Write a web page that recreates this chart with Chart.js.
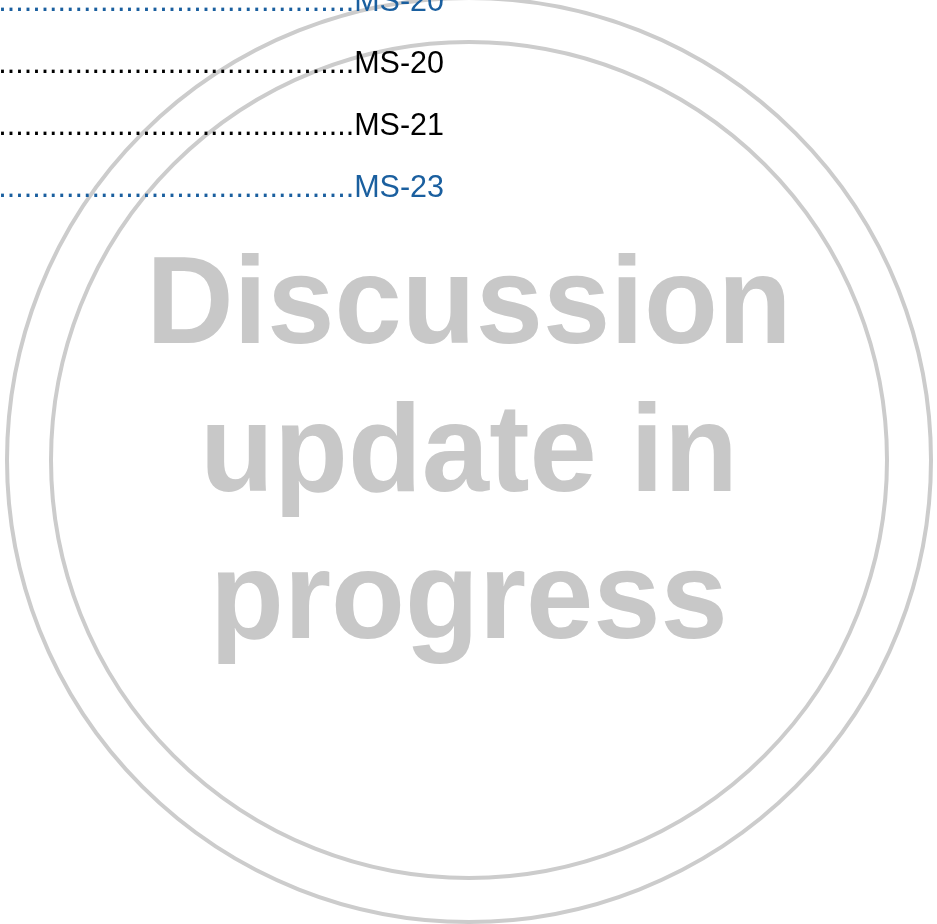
<!DOCTYPE html>
<html><head><meta charset="utf-8">
<script src="https://cdn.jsdelivr.net/npm/chart.js@4.4.1/dist/chart.umd.min.js"></script>
<style>html,body{margin:0;padding:0;background:#fff;overflow:hidden}canvas{display:block}</style>
</head><body>
<canvas id="c" width="937" height="924"></canvas>
<script>
// ---------- data ----------
const tocLabels = ['MS-20', 'MS-20', 'MS-21', 'MS-23'];
const tocLinked = [true, false, false, true];
const watermarkLines = ['Discussion', 'update in', 'progress'];
const watermarkRings = ['outer ring', 'inner ring'];

// ---------- layout / style (kept out of the data) ----------
const PAGE = { w: 937, h: 924 };
const STYLE = {
  toc: {
    font: '30.5px "Liberation Sans", Arial, sans-serif',
    right: 444, firstBaseline: 11, rowStep: 62, leaderDots: 60,
    linkColor: '#1a5f9f', textColor: '#000000'
  },
  mark: {
    cx: 469, cy: 460, radii: [462, 418],
    ringColor: '#cccccc', ringWidth: 4,
    font: 'bold 125px "Liberation Sans", Arial, sans-serif', squeeze: 0.968,
    color: '#c8c8c8', firstBaseline: 343, lineStep: 147.5
  }
};

const pageText = {
  id: 'pageText',
  beforeDraw(chart) {
    const c = chart.ctx;
    c.save(); c.fillStyle = '#ffffff'; c.fillRect(0, 0, chart.width, chart.height); c.restore();
  },
  afterDatasetsDraw(chart) {
    const c = chart.ctx, sx = chart.scales.x, sy = chart.scales.y;
    const m = STYLE.mark, t = STYLE.toc;
    // watermark words
    c.save();
    c.font = m.font; c.fillStyle = m.color; c.textAlign = 'center'; c.textBaseline = 'alphabetic';
    const px = sx.getPixelForValue(m.cx);
    watermarkLines.forEach((line, i) => {
      const py = sy.getPixelForValue(m.firstBaseline + i * m.lineStep);
      c.save();
      c.translate(px, py);
      c.scale(m.squeeze, 1);
      c.fillText(line, 0, 0);
      c.restore();
    });
    c.restore();
    // table-of-contents rows with dot leaders
    c.save();
    c.font = t.font; c.textAlign = 'right'; c.textBaseline = 'alphabetic';
    tocLabels.forEach((lab, i) => {
      c.fillStyle = tocLinked[i] ? t.linkColor : t.textColor;
      c.fillText('.'.repeat(t.leaderDots) + lab, sx.getPixelForValue(t.right), sy.getPixelForValue(t.firstBaseline + i * t.rowStep));
    });
    c.restore();
  }
};

const ringPx = (ctx) => {
  const sx = ctx.chart.scales.x;
  return Math.abs(sx.getPixelForValue(STYLE.mark.radii[ctx.dataIndex]) - sx.getPixelForValue(0));
};

new Chart(document.getElementById('c'), {
  type: 'scatter',
  data: {
    datasets: [{
      label: 'watermark rings',
      data: watermarkRings.map(() => ({ x: STYLE.mark.cx, y: STYLE.mark.cy })),
      pointStyle: 'circle',
      pointRadius: ringPx,
      pointHoverRadius: ringPx,
      pointBackgroundColor: 'rgba(0,0,0,0)',
      pointBorderColor: STYLE.mark.ringColor,
      pointBorderWidth: STYLE.mark.ringWidth,
      pointHoverBorderWidth: STYLE.mark.ringWidth,
      clip: false
    }]
  },
  options: {
    responsive: false,
    animation: false,
    devicePixelRatio: 1,
    events: [],
    layout: { padding: 0 },
    scales: {
      x: { type: 'linear', min: 0, max: PAGE.w, display: false },
      y: { type: 'linear', min: 0, max: PAGE.h, reverse: true, display: false }
    },
    plugins: { legend: { display: false }, tooltip: { enabled: false } }
  },
  plugins: [pageText]
});
</script>
</body></html>
